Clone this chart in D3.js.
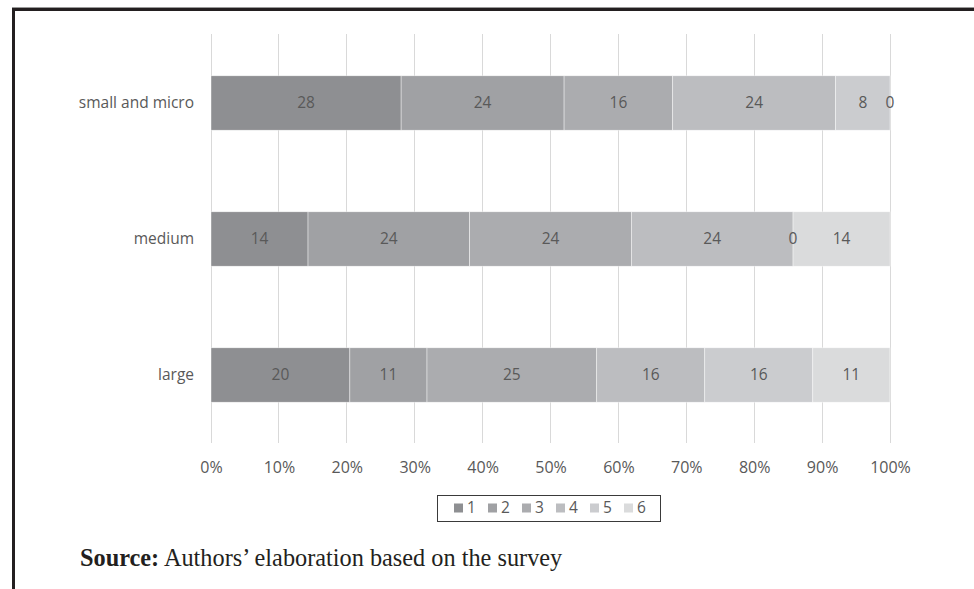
<!DOCTYPE html>
<html>
<head>
<meta charset="utf-8">
<script src="https://cdn.jsdelivr.net/npm/d3@7"></script>
<style>
  html, body { margin: 0; padding: 0; background: #fff; }
  svg { display: block; }
</style>
</head>
<body>
<svg id="chart" width="974" height="589"></svg>
<script>
// ---- data ----
const categories = ["small and micro", "medium", "large"];
const seriesNames = ["1", "2", "3", "4", "5", "6"];
// shares (%) per category, in series order 1..6
const smallMicro = [28, 24, 16, 24, 8, 0];
const medium = [14.29, 23.81, 23.81, 23.81, 0, 14.29];
const large = [20.45, 11.36, 25, 15.91, 15.91, 11.36];
const tickValues = [0, 10, 20, 30, 40, 50, 60, 70, 80, 90, 100];
const sourceLabel = "Source:";
const sourceText = " Authors\u2019 elaboration based on the survey";

const colors = ["#8e8f92", "#a0a1a4", "#abacaf", "#bcbdc0", "#cbcccf", "#dadbdc"];
const valuesByCat = [smallMicro, medium, large];

const svg = d3.select("#chart");
const font = "'Open Sans', sans-serif";
const textColor = "#595959";

// frame
svg.append("rect").attr("x", 12).attr("y", 7).attr("width", 962).attr("height", 1).attr("fill", "#9a9a9a");
svg.append("rect").attr("x", 12).attr("y", 8).attr("width", 962).attr("height", 3).attr("fill", "#231f20");
svg.append("rect").attr("x", 12).attr("y", 8).attr("width", 3).attr("height", 581).attr("fill", "#231f20");

const x = d3.scaleLinear().domain([0, 100]).range([211, 890]);
const y = d3.scaleBand().domain(categories).range([35, 443]).paddingInner(0.6).paddingOuter(0.3);

// gridlines
svg.append("g").selectAll("line").data(tickValues).join("line")
  .attr("x1", d => x(d)).attr("x2", d => x(d))
  .attr("y1", 34).attr("y2", 443)
  .attr("stroke", "#d9d9d9").attr("stroke-width", 1)
  .attr("shape-rendering", "crispEdges");

// x axis labels
const xAxis = d3.axisBottom(x).tickValues(tickValues).tickFormat(d => d + "%").tickSize(0).tickPadding(0);
const gx = svg.append("g").attr("transform", "translate(0,461)").call(xAxis);
gx.select(".domain").remove();
gx.selectAll("text").attr("font-family", font).attr("font-size", 16).attr("fill", textColor).attr("dy", "0.75em");

// y axis labels
const yAxis = d3.axisLeft(y).tickSize(0).tickPadding(0);
const gy = svg.append("g").attr("transform", "translate(194,0)").call(yAxis);
gy.select(".domain").remove();
gy.selectAll("text").attr("font-family", font).attr("font-size", 15.5).attr("fill", textColor);

// stacked data
const rows = categories.map((c, i) => {
  const o = { category: c };
  seriesNames.forEach((s, j) => o[s] = valuesByCat[i][j]);
  return o;
});
const stacked = d3.stack().keys(seriesNames)(rows);

const layers = svg.append("g").selectAll("g").data(stacked).join("g")
  .attr("fill", (d, i) => colors[i]);
layers.selectAll("rect").data(d => d).join("rect")
  .attr("x", d => x(d[0]))
  .attr("width", d => x(d[1]) - x(d[0]))
  .attr("y", d => y(d.data.category))
  .attr("height", y.bandwidth())
  .attr("stroke", "#ffffff").attr("stroke-width", 0.6).attr("stroke-opacity", 0.7);

// data labels
const fmt = d3.format(".0f");
const labelG = svg.append("g");
stacked.forEach((layer, i) => {
  labelG.selectAll(null).data(layer).join("text")
    .attr("x", d => (x(d[0]) + x(d[1])) / 2)
    .attr("y", d => y(d.data.category) + y.bandwidth() / 2)
    .attr("dy", "0.35em")
    .attr("text-anchor", "middle")
    .attr("font-family", font).attr("font-size", 15.5)
    .attr("fill", textColor)
    .text(d => fmt(d[1] - d[0]));
});

// legend
const lg = svg.append("g");
lg.append("rect").attr("x", 437.5).attr("y", 495.5).attr("width", 223).attr("height", 26)
  .attr("fill", "#fff").attr("stroke", "#3a3a3a").attr("stroke-width", 1);
const legendX = d3.scalePoint().domain(seriesNames).range([454, 624]);
const items = lg.selectAll("g").data(seriesNames).join("g")
  .attr("transform", d => `translate(${legendX(d)},508)`);
items.append("rect").attr("x", 0).attr("y", -4.5).attr("width", 9).attr("height", 9)
  .attr("fill", (d, i) => colors[i]);
items.append("text").attr("x", 13).attr("y", 0).attr("dy", "0.35em")
  .attr("font-family", font).attr("font-size", 15.5).attr("fill", textColor)
  .text(d => d);

// source
const src = svg.append("text").attr("x", 80).attr("y", 566)
  .attr("font-family", "'Liberation Serif', 'Times New Roman', serif")
  .attr("font-size", 24.3).attr("fill", "#231f20");
src.append("tspan").attr("font-weight", "bold").text(sourceLabel);
src.append("tspan").text(sourceText);
</script>
</body>
</html>
